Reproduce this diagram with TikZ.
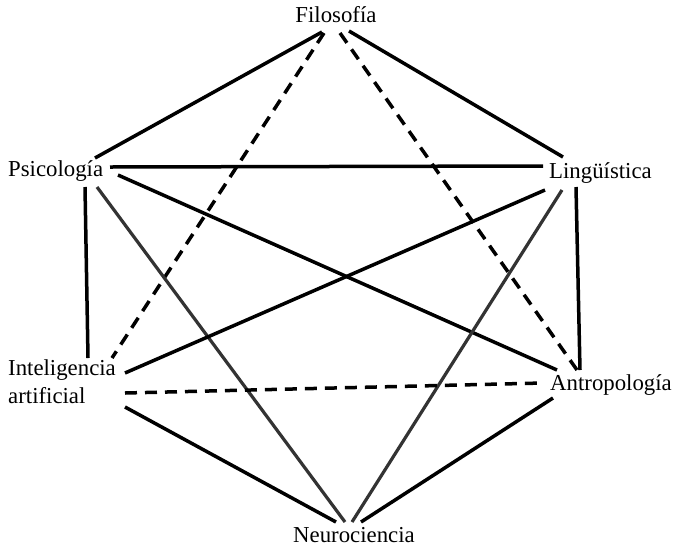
\documentclass[tikz,border=0pt]{standalone}
\usepackage{fontspec}
\setmainfont{Liberation Serif}
\begin{document}
\begin{tikzpicture}[x=1pt,y=-1pt,
  lbl/.style={inner sep=0pt,font=\fontsize{22.8}{28}\selectfont},
  link/.style={line width=3.5pt,black},
  glink/.style={line width=3.2pt,color=gray3},
  dlink/.style={line width=3.5pt,black,dash pattern=on 12pt off 8pt}]
\definecolor{gray3}{HTML}{333333}
\useasboundingbox[fill=white] (0,0) rectangle (674,547);
% nodes
\node[lbl,anchor=base] (fil) at (336,22) {Filosofía};
\node[lbl,anchor=base west] (psi) at (8,176) {Psicología};
\node[lbl,anchor=base west] (lin) at (549,178) {Lingüística};
\node[lbl,anchor=north west,align=left] (ia) at (8,359.5) {Inteligencia\\artificial};
\node[lbl,anchor=base west] (ant) at (550,390) {Antropología};
\node[lbl,anchor=base west] (neu) at (293,542) {Neurociencia};
% endpoint coordinates
\coordinate (fil-psi) at (322,32);
\coordinate (fil-ia) at (324,33);
\coordinate (fil-ant) at (340,33);
\coordinate (fil-lin) at (349,31);
\coordinate (psi-fil) at (95,158);
\coordinate (psi-lin) at (110,167);
\coordinate (psi-ant) at (118,175);
\coordinate (psi-ia) at (85,187);
\coordinate (psi-neu) at (97,187);
\coordinate (lin-fil) at (563,157);
\coordinate (lin-psi) at (543,166);
\coordinate (lin-ia) at (545,190);
\coordinate (lin-neu) at (562,190);
\coordinate (lin-ant) at (576,187);
\coordinate (ia-psi) at (88,358);
\coordinate (ia-fil) at (112,358);
\coordinate (ia-lin) at (125,373);
\coordinate (ia-ant) at (125,393);
\coordinate (ia-neu) at (125,407);
\coordinate (ant-psi) at (557,370);
\coordinate (ant-fil) at (577,370);
\coordinate (ant-lin) at (580,370);
\coordinate (ant-ia) at (543,383);
\coordinate (ant-neu) at (553,398);
\coordinate (neu-ia) at (336,522);
\coordinate (neu-psi) at (345,522);
\coordinate (neu-lin) at (352,522);
\coordinate (neu-ant) at (361,522);
% connectors
\draw[link] (fil-psi) -- (psi-fil);
\draw[link] (fil-lin) -- (lin-fil);
\draw[dlink] (fil-ia) -- (ia-fil);
\draw[dlink] (fil-ant) -- (ant-fil);
\draw[link] (psi-lin) -- (lin-psi);
\draw[link] (psi-ant) -- (ant-psi);
\draw[link] (psi-ia) -- (ia-psi);
\draw[glink] (psi-neu) -- (neu-psi);
\draw[link] (lin-ia) -- (ia-lin);
\draw[glink] (lin-neu) -- (neu-lin);
\draw[link] (lin-ant) -- (ant-lin);
\draw[dlink] (ia-ant) -- (ant-ia);
\draw[link] (ia-neu) -- (neu-ia);
\draw[link] (ant-neu) -- (neu-ant);
\end{tikzpicture}
\end{document}
